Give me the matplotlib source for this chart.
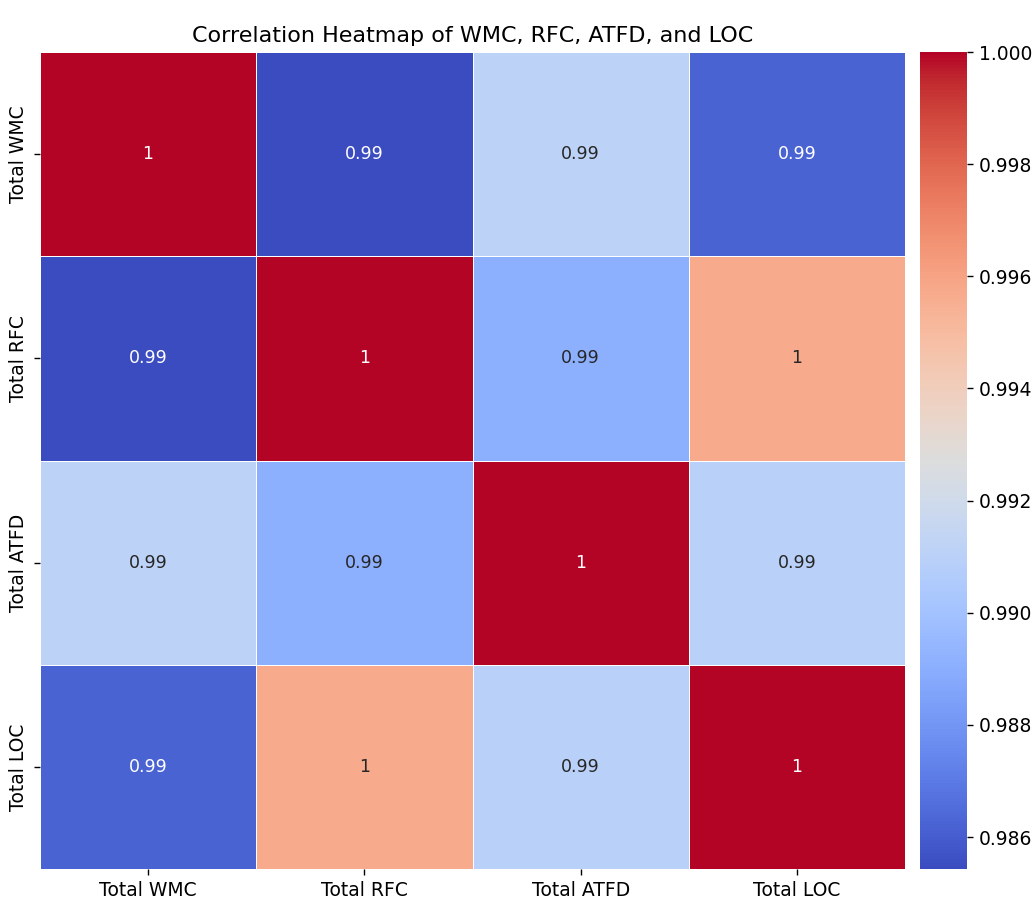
import numpy as np
import pandas as pd
import seaborn as sns
import matplotlib
matplotlib.use("Agg")
import matplotlib.pyplot as plt

metrics = ['Total WMC', 'Total RFC', 'Total ATFD', 'Total LOC']

# pairwise correlations (upper triangle mirrored below)
corr_values = [
    [1.0000, 0.98543, 0.9911, 0.9862],
    [0.98543, 1.0000, 0.9891, 0.9957],
    [0.9911, 0.9891, 1.0000, 0.9909],
    [0.9862, 0.9957, 0.9909, 1.0000],
]

corr = pd.DataFrame(corr_values, index=metrics, columns=metrics)

fig = plt.figure(figsize=(1036 / 125, 911 / 125), dpi=125)
ax = fig.add_axes([0.0386, 0.0461, 0.835, 0.8968])
cax = fig.add_axes([0.888, 0.0461, 0.0454, 0.8968])

sns.heatmap(corr, annot=True, cmap='coolwarm', linewidths=0.5,
            ax=ax, cbar_ax=cax)
ax.set_title('Correlation Heatmap of WMC, RFC, ATFD, and LOC', fontsize=12.8)
ax.tick_params(labelsize=10.8)
cax.tick_params(labelsize=10.8)

fig.savefig('out.png', dpi=125)
